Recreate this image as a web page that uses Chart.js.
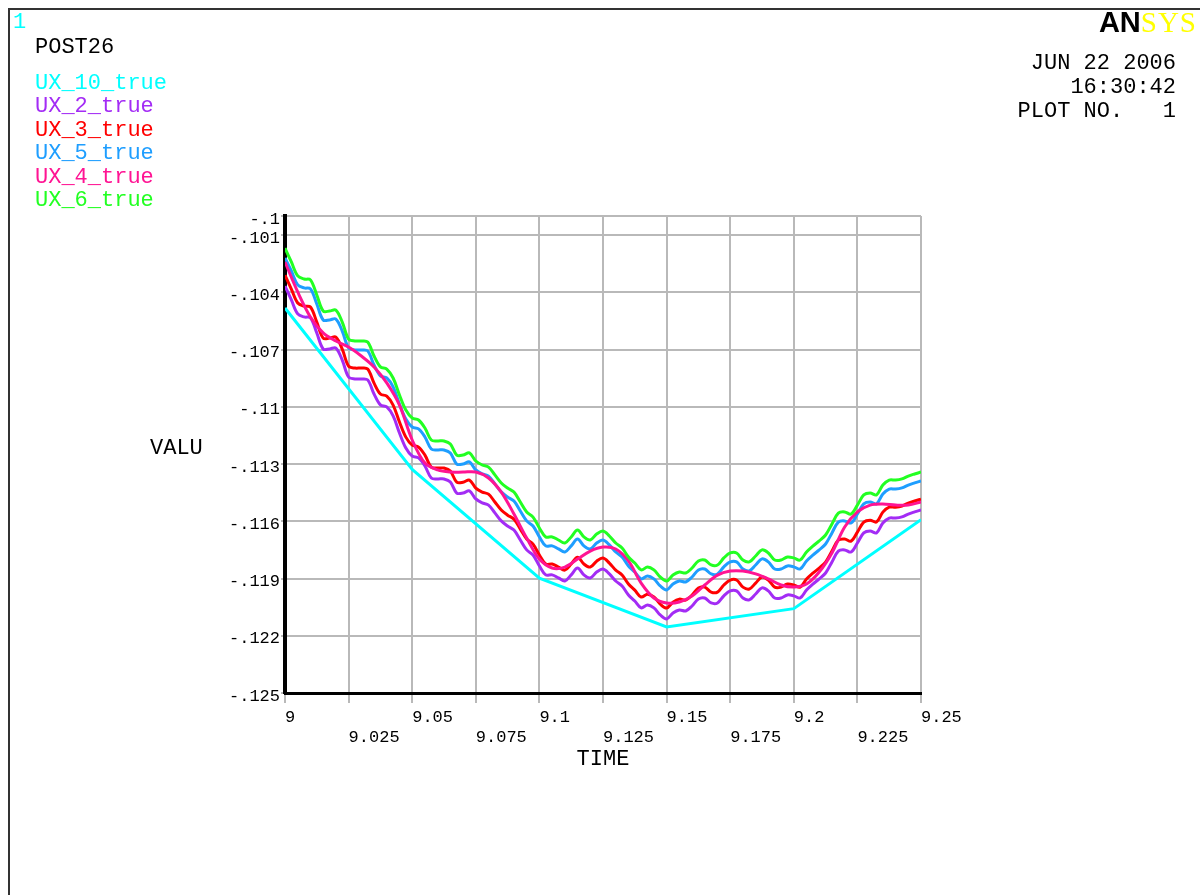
<!DOCTYPE html>
<html>
<head>
<meta charset="utf-8">
<script src="https://cdn.jsdelivr.net/npm/chart.js@4.4.1/dist/chart.umd.min.js"></script>
<style>
  html, body { margin: 0; padding: 0; background: #fff; }
  #wrap { position: relative; width: 1200px; height: 895px; overflow: hidden; }
  #frame { position: absolute; left: 8px; top: 8px; width: 1300px; height: 1000px; border-left: 2px solid #333; border-top: 2px solid #333; }
  canvas { position: absolute; left: 0; top: 0; }
  .t { position: absolute; font-family: "Liberation Mono", monospace; font-size: 22px; line-height: 22px; white-space: pre; }
  .r { text-align: right; }
</style>
</head>
<body>
<div id="wrap">
  <div id="frame"></div>
  <canvas id="c" width="1200" height="895"></canvas>
  <div class="t" style="left:13px;top:12px;color:#00FFFF;font-size:22px;">1</div>
  <div class="t" style="left:35px;top:37px;color:#000;">POST26</div>
  <div id="legend"></div>
  <div class="t" style="left:150px;top:438px;color:#000;">VALU</div>
  <div class="t r" style="right:24px;top:53px;color:#000;">JUN 22 2006</div>
  <div class="t r" style="right:24px;top:77px;color:#000;">16:30:42</div>
  <div class="t r" style="right:24px;top:101px;color:#000;">PLOT NO.   1</div>
  <div style="position:absolute;right:3px;top:8px;font-size:29px;line-height:29px;white-space:nowrap;"><span style="font-family:'Liberation Sans',sans-serif;font-weight:bold;color:#000;letter-spacing:0px;">AN</span><span style="font-family:'Liberation Serif',serif;color:#FFFF00;letter-spacing:1px;">SYS</span></div>
</div>
<script>
// ---------------- data ----------------
const SERIES_NAMES = ['UX_10_true', 'UX_2_true', 'UX_3_true', 'UX_5_true', 'UX_4_true', 'UX_6_true'];
const SERIES_COLORS = ['#00FFFF', '#A32CF5', '#FF0000', '#1E9EFF', '#FF1493', '#22FF22'];

const X_TICKS = [9, 9.025, 9.05, 9.075, 9.1, 9.125, 9.15, 9.175, 9.2, 9.225, 9.25];
const X_TICK_LABELS = ['9', '9.025', '9.05', '9.075', '9.1', '9.125', '9.15', '9.175', '9.2', '9.225', '9.25'];
const Y_TICKS = [-0.1, -0.101, -0.104, -0.107, -0.11, -0.113, -0.116, -0.119, -0.122, -0.125];
const Y_TICK_LABELS = ['-.1', '-.101', '-.104', '-.107', '-.11', '-.113', '-.116', '-.119', '-.122', '-.125'];

// time samples of the rippled curves
const TIME = [
  9.0000, 9.0025, 9.0050, 9.0075, 9.0100, 9.0125, 9.0150, 9.0175, 9.0200, 9.0225,
  9.0250, 9.0275, 9.0300, 9.0325, 9.0350, 9.0375, 9.0400, 9.0425, 9.0450, 9.0475,
  9.0500, 9.0525, 9.0550, 9.0575, 9.0600, 9.0625, 9.0650, 9.0675, 9.0700, 9.0725,
  9.0750, 9.0775, 9.0800, 9.0825, 9.0850, 9.0875, 9.0900, 9.0925, 9.0950, 9.0975,
  9.1000, 9.1025, 9.1050, 9.1075, 9.1100, 9.1125, 9.1150, 9.1175, 9.1200, 9.1225,
  9.1250, 9.1275, 9.1300, 9.1325, 9.1350, 9.1375, 9.1400, 9.1425, 9.1450, 9.1475,
  9.1500, 9.1525, 9.1550, 9.1575, 9.1600, 9.1625, 9.1650, 9.1675, 9.1700, 9.1725,
  9.1750, 9.1775, 9.1800, 9.1825, 9.1850, 9.1875, 9.1900, 9.1925, 9.1950, 9.1975,
  9.2000, 9.2025, 9.2050, 9.2075, 9.2100, 9.2125, 9.2150, 9.2175, 9.2200, 9.2225,
  9.2250, 9.2275, 9.2300, 9.2325, 9.2350, 9.2375, 9.2400, 9.2425, 9.2450, 9.2475,
  9.2500
];

const UX_6 = [
  -0.10168, -0.10241, -0.10314, -0.10330, -0.10335, -0.10414, -0.10498, -0.10498, -0.10493, -0.10556,
  -0.10645, -0.10655, -0.10655, -0.10660, -0.10734, -0.10791, -0.10802, -0.10849, -0.10938, -0.11017,
  -0.11059, -0.11069, -0.11111, -0.11174, -0.11179, -0.11179, -0.11195, -0.11253, -0.11253, -0.11242,
  -0.11284, -0.11305, -0.11316, -0.11357, -0.11399, -0.11426, -0.11447, -0.11499, -0.11551, -0.11578,
  -0.11635, -0.11682, -0.11682, -0.11698, -0.11714, -0.11682, -0.11646, -0.11682, -0.11698, -0.11667,
  -0.11651, -0.11677, -0.11714, -0.11740, -0.11787, -0.11819, -0.11855, -0.11840, -0.11855, -0.11892,
  -0.11913, -0.11882, -0.11866, -0.11871, -0.11845, -0.11808, -0.11803, -0.11829, -0.11829, -0.11792,
  -0.11766, -0.11766, -0.11803, -0.11813, -0.11782, -0.11750, -0.11766, -0.11803, -0.11803, -0.11787,
  -0.11792, -0.11803, -0.11761, -0.11730, -0.11703, -0.11672, -0.11614, -0.11557, -0.11551, -0.11562,
  -0.11515, -0.11462, -0.11452, -0.11462, -0.11410, -0.11384, -0.11384, -0.11378, -0.11363, -0.11352,
  -0.11342
];

const UX_5 = [
  -0.10220, -0.10288, -0.10361, -0.10377, -0.10382, -0.10461, -0.10545, -0.10545, -0.10540, -0.10603,
  -0.10692, -0.10702, -0.10702, -0.10707, -0.10781, -0.10838, -0.10849, -0.10896, -0.10985, -0.11064,
  -0.11106, -0.11116, -0.11158, -0.11221, -0.11226, -0.11226, -0.11242, -0.11300, -0.11300, -0.11289,
  -0.11331, -0.11352, -0.11363, -0.11404, -0.11446, -0.11473, -0.11494, -0.11546, -0.11598, -0.11625,
  -0.11682, -0.11729, -0.11729, -0.11745, -0.11761, -0.11729, -0.11693, -0.11729, -0.11745, -0.11714,
  -0.11698, -0.11724, -0.11761, -0.11787, -0.11834, -0.11866, -0.11902, -0.11887, -0.11902, -0.11939,
  -0.11960, -0.11929, -0.11913, -0.11918, -0.11892, -0.11855, -0.11850, -0.11876, -0.11876, -0.11839,
  -0.11813, -0.11813, -0.11850, -0.11860, -0.11829, -0.11797, -0.11813, -0.11850, -0.11850, -0.11834,
  -0.11839, -0.11850, -0.11808, -0.11777, -0.11750, -0.11719, -0.11661, -0.11604, -0.11598, -0.11609,
  -0.11562, -0.11509, -0.11499, -0.11509, -0.11457, -0.11431, -0.11431, -0.11425, -0.11410, -0.11399,
  -0.11389
];

const UX_3 = [
  -0.10310, -0.10383, -0.10456, -0.10472, -0.10477, -0.10556, -0.10640, -0.10640, -0.10635, -0.10698,
  -0.10787, -0.10797, -0.10797, -0.10802, -0.10876, -0.10933, -0.10944, -0.10991, -0.11080, -0.11159,
  -0.11201, -0.11211, -0.11253, -0.11316, -0.11321, -0.11321, -0.11337, -0.11395, -0.11395, -0.11384,
  -0.11426, -0.11447, -0.11458, -0.11499, -0.11541, -0.11568, -0.11589, -0.11641, -0.11693, -0.11720,
  -0.11777, -0.11824, -0.11824, -0.11840, -0.11856, -0.11824, -0.11788, -0.11824, -0.11840, -0.11809,
  -0.11793, -0.11819, -0.11856, -0.11882, -0.11929, -0.11961, -0.11997, -0.11982, -0.11997, -0.12034,
  -0.12055, -0.12024, -0.12008, -0.12013, -0.11987, -0.11950, -0.11945, -0.11971, -0.11971, -0.11934,
  -0.11908, -0.11908, -0.11945, -0.11955, -0.11924, -0.11892, -0.11908, -0.11945, -0.11945, -0.11929,
  -0.11934, -0.11945, -0.11903, -0.11872, -0.11845, -0.11814, -0.11756, -0.11699, -0.11693, -0.11704,
  -0.11657, -0.11604, -0.11594, -0.11604, -0.11552, -0.11526, -0.11526, -0.11520, -0.11505, -0.11494,
  -0.11484
];

const UX_2 = [
  -0.10367, -0.10440, -0.10513, -0.10529, -0.10534, -0.10613, -0.10697, -0.10697, -0.10692, -0.10755,
  -0.10844, -0.10854, -0.10854, -0.10859, -0.10933, -0.10990, -0.11001, -0.11048, -0.11137, -0.11216,
  -0.11258, -0.11268, -0.11310, -0.11373, -0.11378, -0.11378, -0.11394, -0.11452, -0.11452, -0.11441,
  -0.11483, -0.11504, -0.11515, -0.11556, -0.11598, -0.11625, -0.11646, -0.11698, -0.11750, -0.11777,
  -0.11834, -0.11881, -0.11881, -0.11897, -0.11913, -0.11881, -0.11845, -0.11881, -0.11897, -0.11866,
  -0.11850, -0.11876, -0.11913, -0.11939, -0.11986, -0.12018, -0.12054, -0.12039, -0.12054, -0.12091,
  -0.12112, -0.12081, -0.12065, -0.12070, -0.12044, -0.12007, -0.12002, -0.12028, -0.12028, -0.11991,
  -0.11965, -0.11965, -0.12002, -0.12012, -0.11981, -0.11949, -0.11965, -0.12002, -0.12002, -0.11986,
  -0.11991, -0.12002, -0.11960, -0.11929, -0.11902, -0.11871, -0.11813, -0.11756, -0.11750, -0.11761,
  -0.11714, -0.11661, -0.11651, -0.11661, -0.11609, -0.11583, -0.11583, -0.11577, -0.11562, -0.11551,
  -0.11541
];

// smooth curve UX_4
const TIME_4 = [
  9.000, 9.005, 9.010, 9.015, 9.020, 9.025, 9.030, 9.035, 9.040, 9.045,
  9.050, 9.055, 9.060, 9.065, 9.070, 9.075, 9.080, 9.085, 9.090, 9.095,
  9.100, 9.105, 9.110, 9.115, 9.120, 9.125, 9.130, 9.135, 9.140, 9.145,
  9.150, 9.155, 9.160, 9.165, 9.170, 9.175, 9.180, 9.185, 9.190, 9.195,
  9.200, 9.205, 9.210, 9.215, 9.220, 9.225, 9.230, 9.235, 9.240, 9.245,
  9.250
];
const UX_4 = [
  -0.10241, -0.10398, -0.10529, -0.10613, -0.10655, -0.10687, -0.10734, -0.10791, -0.10875, -0.10991,
  -0.11174, -0.11295, -0.11331, -0.11342, -0.11342, -0.11342, -0.11373, -0.11447, -0.11562, -0.11688,
  -0.11798, -0.11845, -0.11840, -0.11798, -0.11756, -0.11735, -0.11745, -0.11808, -0.11924, -0.12002,
  -0.12028, -0.12023, -0.11992, -0.11934, -0.11882, -0.11861, -0.11861, -0.11876, -0.11902, -0.11934,
  -0.11945, -0.11929, -0.11866, -0.11766, -0.11630, -0.11551, -0.11515, -0.11509, -0.11515, -0.11515,
  -0.11499
];

// coarse curve UX_10
const TIME_10 = [9.00, 9.05, 9.10, 9.15, 9.20, 9.25];
const UX_10 = [-0.10482, -0.11328, -0.11898, -0.12154, -0.12058, -0.11592];

// ---------------- legend text ----------------
const legendTops = [73, 96, 120, 143, 167, 190];
const legendEl = document.getElementById('legend');
SERIES_NAMES.forEach((n, i) => {
  const d = document.createElement('div');
  d.className = 't';
  d.style.left = '35px';
  d.style.top = legendTops[i] + 'px';
  d.style.color = SERIES_COLORS[i];
  d.textContent = n;
  legendEl.appendChild(d);
});

// ---------------- chart ----------------
function pairs(xs, ys) { return xs.map((x, i) => ({ x: x, y: ys[i] })); }

const seriesData = [
  pairs(TIME_10, UX_10),
  pairs(TIME, UX_2),
  pairs(TIME, UX_3),
  pairs(TIME, UX_5),
  pairs(TIME_4, UX_4),
  pairs(TIME, UX_6)
];
const drawOrder = [5, 4, 3, 2, 1, 0];

const datasets = SERIES_NAMES.map((n, i) => ({
  label: n,
  data: seriesData[i],
  borderColor: SERIES_COLORS[i],
  backgroundColor: SERIES_COLORS[i],
  borderWidth: 3,
  pointRadius: 0,
  fill: false,
  tension: i === 0 ? 0 : 0.35,
  order: drawOrder[i]
}));

const GRID = '#b9b9b9';

new Chart(document.getElementById('c'), {
  type: 'line',
  data: { datasets: datasets },
  options: {
    responsive: false,
    animation: false,
    events: [],
    layout: { padding: { top: 216, right: 279, bottom: 123, left: 0 } },
    plugins: { legend: { display: false }, tooltip: { enabled: false }, title: { display: false } },
    scales: {
      x: {
        type: 'linear',
        min: 9, max: 9.25,
        afterBuildTicks: (s) => { s.ticks = X_TICKS.map(v => ({ value: v })); },
        afterFit: (s) => { s.height = 79; },
        grid: { color: GRID, lineWidth: 2, tickLength: 10, drawTicks: true },
        border: { display: true, color: '#000', width: 3 },
        ticks: {
          autoSkip: false, maxRotation: 0, minRotation: 0,
          align: 'start', padding: 4, color: '#000',
          font: { family: 'Liberation Mono', size: 17 },
          callback: (v, i) => (i % 2 === 0 ? X_TICK_LABELS[i] : ['', X_TICK_LABELS[i]])
        },
        title: {
          display: true, text: 'TIME', color: '#000',
          font: { family: 'Liberation Mono', size: 22 },
          padding: { top: 0, bottom: 0 }
        }
      },
      y: {
        type: 'linear',
        min: -0.125, max: -0.1,
        afterBuildTicks: (s) => { s.ticks = Y_TICKS.map(v => ({ value: v })); },
        afterFit: (s) => { s.width = 285; },
        grid: { color: GRID, lineWidth: 2, tickLength: 4, drawTicks: true },
        border: { display: true, color: '#000', width: 4 },
        ticks: {
          autoSkip: false, padding: 1, color: '#000', labelOffset: 3,
          font: { family: 'Liberation Mono', size: 17 },
          callback: (v, i) => Y_TICK_LABELS[i]
        }
      }
    }
  }
});
</script>
</body>
</html>
